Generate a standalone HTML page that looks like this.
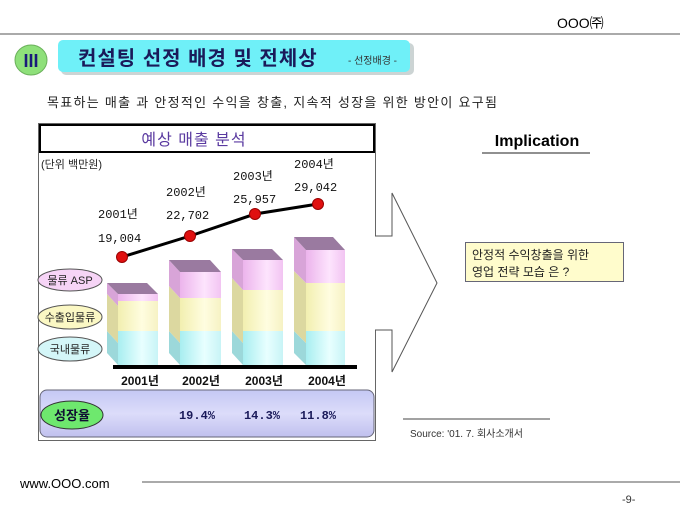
<!DOCTYPE html><html><head><meta charset="utf-8"><style>body{margin:0;background:#fff}svg{display:block}text{font-family:"Liberation Sans","Noto Sans CJK KR",sans-serif}.mono{font-family:"Liberation Mono","Noto Sans CJK KR",monospace}</style></head><body>
<svg width="680" height="510" viewBox="0 0 680 510" xmlns="http://www.w3.org/2000/svg">
<defs>
<linearGradient id="cy" x1="0" x2="1"><stop offset="0" stop-color="#a8eef0"/><stop offset=".6" stop-color="#e8ffff"/><stop offset="1" stop-color="#c8f4f6"/></linearGradient>
<linearGradient id="ye" x1="0" x2="1"><stop offset="0" stop-color="#f2efb0"/><stop offset=".6" stop-color="#fffde0"/><stop offset="1" stop-color="#f6f2c4"/></linearGradient>
<linearGradient id="pk" x1="0" x2="1"><stop offset="0" stop-color="#ecb4ec"/><stop offset=".6" stop-color="#fde4fd"/><stop offset="1" stop-color="#f2c4f2"/></linearGradient>
<linearGradient id="lav" x1="0" y1="0" x2="0" y2="1"><stop offset="0" stop-color="#c4c8f4"/><stop offset=".5" stop-color="#dcdcfa"/><stop offset="1" stop-color="#c0c0ee"/></linearGradient>
</defs>
<text x="557" y="28" font-size="14" fill="#000">OOO㈜</text>
<line x1="0" y1="34" x2="680" y2="34" stroke="#555" stroke-width="1"/>
<ellipse cx="31" cy="60" rx="16" ry="15" fill="#8ee07a" stroke="#6ab05a"/>
<text x="31" y="67" font-size="18" font-weight="bold" fill="#1a1a7a" text-anchor="middle">III</text>
<rect x="61" y="43" width="353" height="32" rx="5" fill="#9aa" opacity=".5"/>
<rect x="58" y="40" width="352" height="32" rx="5" fill="#6ff0f8"/>
<text x="78" y="65" font-size="20" font-weight="bold" fill="#1a1a5a" letter-spacing="1">컨설팅  선정 배경 및 전체상</text>
<text x="348" y="64" font-size="10" fill="#333">- 선정배경 -</text>
<text x="47" y="107" font-size="13" fill="#222" textLength="450" lengthAdjust="spacing">목표하는 매출 과 안정적인 수익을 창출,  지속적 성장을 위한 방안이 요구됨</text>
<rect x="38.5" y="123.5" width="337" height="317" fill="none" stroke="#666"/>
<rect x="40" y="125" width="334" height="27" fill="#fff" stroke="#000" stroke-width="2"/>
<text x="194" y="145" font-size="16" fill="#5a3aa0" text-anchor="middle" letter-spacing="1">예상 매출 분석</text>
<text x="41" y="168" font-size="11" fill="#222">(단위 백만원)</text>
<g stroke="none">
<g>
<polygon points="107,331 118,343 118,365 107,353" fill="#9cd8da"/><polygon points="107,294 118,306 118,343 107,331" fill="#dcd8a0"/><polygon points="107,283 118,294 118,306 107,294" fill="#d8a4d8"/>
<rect x="118" y="331" width="40" height="34" fill="url(#cy)"/><rect x="118" y="301" width="40" height="30" fill="url(#ye)"/><rect x="118" y="294" width="40" height="7" fill="url(#pk)"/>
<polygon points="107,283 147,283 158,294 118,294" fill="#9a7aa0"/>
</g>
<g>
<polygon points="169,331 180,343 180,365 169,353" fill="#9cd8da"/><polygon points="169,286 180,298 180,343 169,331" fill="#dcd8a0"/><polygon points="169,260 180,272 180,298 169,286" fill="#d8a4d8"/>
<rect x="180" y="331" width="41" height="34" fill="url(#cy)"/><rect x="180" y="298" width="41" height="33" fill="url(#ye)"/><rect x="180" y="272" width="41" height="26" fill="url(#pk)"/>
<polygon points="169,260 210,260 221,272 180,272" fill="#9a7aa0"/>
</g>
<g>
<polygon points="232,331 243,343 243,365 232,353" fill="#9cd8da"/><polygon points="232,278 243,290 243,343 232,331" fill="#dcd8a0"/><polygon points="232,249 243,260 243,290 232,278" fill="#d8a4d8"/>
<rect x="243" y="331" width="40" height="34" fill="url(#cy)"/><rect x="243" y="290" width="40" height="41" fill="url(#ye)"/><rect x="243" y="260" width="40" height="30" fill="url(#pk)"/>
<polygon points="232,249 272,249 283,260 243,260" fill="#9a7aa0"/>
</g>
<g>
<polygon points="294,331 306,343 306,365 294,353" fill="#9cd8da"/><polygon points="294,271 306,283 306,343 294,331" fill="#dcd8a0"/><polygon points="294,237 306,250 306,283 294,271" fill="#d8a4d8"/>
<rect x="306" y="331" width="39" height="34" fill="url(#cy)"/><rect x="306" y="283" width="39" height="48" fill="url(#ye)"/><rect x="306" y="250" width="39" height="33" fill="url(#pk)"/>
<polygon points="294,237 333,237 345,250 306,250" fill="#9a7aa0"/>
</g>
</g>
<rect x="113" y="365" width="244" height="4" fill="#000"/>
<g font-size="12" font-weight="bold" text-anchor="middle" fill="#111">
<text x="140" y="385">2001년</text><text x="201" y="385">2002년</text><text x="264" y="385">2003년</text><text x="327" y="385">2004년</text></g>
<polyline points="122,257 190,236 255,214 318,204" fill="none" stroke="#000" stroke-width="3"/>
<g fill="#e01010" stroke="#900"><circle cx="122" cy="257" r="5.5"/><circle cx="190" cy="236" r="5.5"/><circle cx="255" cy="214" r="5.5"/><circle cx="318" cy="204" r="5.5"/></g>
<g font-size="12" fill="#111">
<text class="mono" x="98" y="218">2001년</text><text class="mono" x="98" y="242">19,004</text>
<text class="mono" x="166" y="196">2002년</text><text class="mono" x="166" y="219">22,702</text>
<text class="mono" x="233" y="180">2003년</text><text class="mono" x="233" y="203">25,957</text>
<text class="mono" x="294" y="168">2004년</text><text class="mono" x="294" y="191">29,042</text></g>
<ellipse cx="70" cy="280" rx="32" ry="11" fill="#f6d4f6" stroke="#555"/>
<text x="70" y="284" font-size="11" text-anchor="middle" fill="#222">물류 ASP</text>
<ellipse cx="70" cy="317" rx="32" ry="12" fill="#fbf8c4" stroke="#555"/>
<text x="70" y="321" font-size="11" text-anchor="middle" fill="#222">수출입물류</text>
<ellipse cx="70" cy="349" rx="32" ry="12" fill="#d4f6f8" stroke="#555"/>
<text x="70" y="353" font-size="11" text-anchor="middle" fill="#222">국내물류</text>
<rect x="40" y="390" width="334" height="47" rx="7" fill="url(#lav)" stroke="#667"/>
<ellipse cx="72" cy="415" rx="31" ry="14" fill="#6ee86e" stroke="#333"/>
<text x="72" y="420" font-size="13" font-weight="bold" text-anchor="middle" fill="#113">성장율</text>
<g font-size="12" font-weight="bold" fill="#1a1a5a" text-anchor="middle"><text class="mono" x="197" y="419">19.4%</text><text class="mono" x="262" y="419">14.3%</text><text class="mono" x="318" y="419">11.8%</text></g>
<polyline points="375,236 392,236 392,193 437,283 392,372 392,330 375,330" fill="#fff" stroke="#555"/>
<text x="537" y="146" font-size="16" font-weight="bold" text-anchor="middle" fill="#000">Implication</text>
<line x1="482" y1="153" x2="590" y2="153" stroke="#222"/>
<rect x="465.5" y="242.5" width="158" height="39" fill="#fffccc" stroke="#667"/>
<text x="472" y="259" font-size="12" fill="#222">안정적 수익창출을 위한</text>
<text x="472" y="276" font-size="12" fill="#222">영업 전략 모습 은 ?</text>
<line x1="403" y1="419" x2="550" y2="419" stroke="#444"/>
<text x="410" y="437" font-size="10" fill="#333">Source: '01. 7. 회사소개서</text>
<text x="20" y="488" font-size="13" fill="#000">www.OOO.com</text>
<line x1="142" y1="482" x2="680" y2="482" stroke="#555"/>
<text x="622" y="503" font-size="11" fill="#333">-9-</text>
</svg></body></html>
